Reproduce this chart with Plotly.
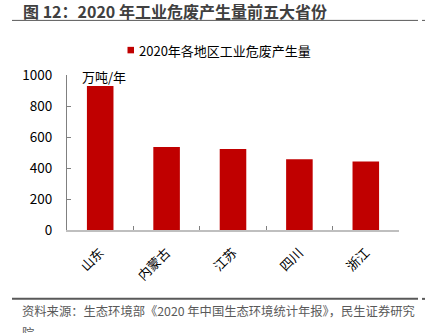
import plotly.graph_objects as go

categories = ["山东", "内蒙古", "江苏", "四川", "浙江"]
values = [929, 536, 523, 457, 442]
series_name = "2020年各地区工业危废产生量"
y_ticks = [0, 200, 400, 600, 800, 1000]

W, H = 426, 333
L, R, T, B = 67, 399, 74.7, 230

def px(x):
    return (x - L) / (R - L)

def py(y):
    return (B - y) / (B - T)

FONT = "Noto Sans CJK SC, Microsoft YaHei, sans-serif"
BAR_COLOR = "#C00000"

fig = go.Figure()
fig.add_trace(go.Bar(
    x=categories, y=values, name=series_name,
    marker=dict(color=BAR_COLOR, line=dict(width=0)),
    width=0.4, showlegend=False,
))

fig.update_layout(
    width=W, height=H,
    margin=dict(l=L, r=W - R, t=T, b=H - B, autoexpand=False),
    plot_bgcolor="white", paper_bgcolor="white",
    font=dict(family=FONT, size=13, color="#000000"),
    showlegend=False,
    bargap=0.6,
    xaxis=dict(
        type="category", showline=True, linecolor="#BFBFBF", linewidth=2,
        ticks="inside", ticklen=4, tickcolor="#808080", tickson="boundaries",
        tickangle=-45, tickfont=dict(size=13, color="#000000"),
        showgrid=False, zeroline=False, ticklabelstandoff=8,
    ),
    yaxis=dict(
        range=[0, 1000], tickvals=y_ticks, showline=True, linecolor="#808080",
        linewidth=1, ticks="inside", ticklen=4, tickcolor="#808080",
        tickfont=dict(size=13.5, color="#000000"), showgrid=False, zeroline=False,
        ticklabelstandoff=11,
    ),
)

anns = [
    dict(text="<b>图 12：2020 年工业危废产生量前五大省份</b>", x=px(21), y=py(11),
         xanchor="left", yanchor="middle", font=dict(size=16, color="#404040")),
    dict(text="万吨/年", x=px(80), y=py(76), xanchor="left", yanchor="middle",
         font=dict(size=13, color="#000000")),
    dict(text=series_name, x=px(137), y=py(50), xanchor="left", yanchor="middle",
         font=dict(size=13, color="#000000")),
    dict(text="资料来源：生态环境部《2020 年中国生态环境统计年报》，民生证券研究", x=px(20), y=py(311),
         xanchor="left", yanchor="middle", font=dict(size=12.3, color="#595959")),
    dict(text="院", x=px(20), y=py(333), xanchor="left", yanchor="middle",
         font=dict(size=12.3, color="#595959")),
]
for a in anns:
    a.update(xref="paper", yref="paper", showarrow=False)
    fig.add_annotation(**a)

# legend swatch
fig.add_shape(type="rect", xref="paper", yref="paper", x0=px(127.5), x1=px(134),
              y0=py(46.5), y1=py(53), fillcolor=BAR_COLOR, line=dict(width=0))

fig.add_shape(type="line", xref="paper", yref="paper", x0=px(12), x1=px(418),
              y0=py(20), y1=py(20), line=dict(color="#595959", width=1))
fig.add_shape(type="line", xref="paper", yref="paper", x0=px(422), x1=px(425),
              y0=py(20), y1=py(20), line=dict(color="#595959", width=1))
fig.add_shape(type="line", xref="paper", yref="paper", x0=px(12), x1=px(418),
              y0=py(299), y1=py(299), line=dict(color="#595959", width=2))
fig.add_shape(type="line", xref="paper", yref="paper", x0=px(422), x1=px(425),
              y0=py(299), y1=py(299), line=dict(color="#595959", width=2))

fig.write_html("out.html")
